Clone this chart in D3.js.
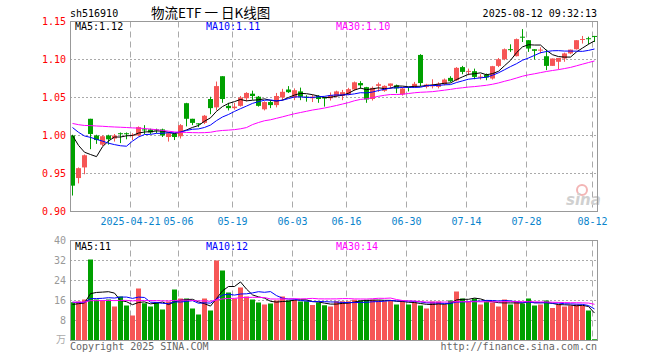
<!DOCTYPE html>
<html>
<head>
<meta charset="utf-8">
<script src="https://cdn.jsdelivr.net/npm/d3@7"></script>
<style>
body { margin: 0; background: #fff; }
text { font-family: "DejaVu Sans Mono", monospace; font-size: 10px; }
</style>
</head>
<body>
<div id="canvas"></div>
<script>
var width = 660;
var height = 360;

// trading days shown (2025)
var dates = ["04-07","04-08","04-09","04-10","04-11","04-14","04-15","04-16","04-17","04-18",
  "04-21","04-22","04-23","04-24","04-25","04-28","04-29","04-30",
  "05-06","05-07","05-08","05-09","05-12","05-13","05-14","05-15","05-16","05-19","05-20","05-21","05-22","05-23",
  "05-26","05-27","05-28","05-29","05-30",
  "06-03","06-04","06-05","06-06","06-09","06-10","06-11","06-12","06-13","06-16","06-17","06-18","06-19","06-20",
  "06-23","06-24","06-25","06-26","06-27","06-30",
  "07-01","07-02","07-03","07-04","07-07","07-08","07-09","07-10","07-11","07-14","07-15","07-16","07-17","07-18",
  "07-21","07-22","07-23","07-24","07-25","07-28","07-29","07-30","07-31",
  "08-01","08-04","08-05","08-06","08-07","08-08","08-11","08-12"];

var open = [1.000,0.944,0.958,1.022,1.000,0.988,1.000,0.996,1.003,1.003,
  1.000,1.000,1.008,1.008,1.008,1.008,0.998,1.002,
  0.999,1.0425,1.022,1.016,1.0167,1.048,1.037,1.078,1.039,1.036,1.039,1.049,1.055,1.051,
  1.0345,1.044,1.040,1.050,1.0605,
  1.050,1.058,1.051,1.049,1.052,1.050,1.049,1.052,1.052,1.054,1.0605,1.069,1.0636,1.048,
  1.0653,1.0588,1.0653,1.066,1.054,1.064,
  1.064,1.106,1.064,1.065,1.064,1.0675,1.0758,1.0727,1.090,1.084,1.0846,1.077,1.080,1.075,
  1.0916,1.1004,1.1136,1.1044,1.130,1.1254,1.1135,1.112,1.1043,
  1.0916,1.097,1.1013,1.108,1.1135,1.126,1.128,1.131];

var high = [1.001,0.958,0.975,1.022,1.001,1.000,1.001,1.002,1.004,1.004,
  1.003,1.012,1.0136,1.009,1.009,1.009,1.004,1.003,
  1.015,1.043,1.022,1.016,1.027,1.051,1.071,1.078,1.043,1.043,1.052,1.057,1.059,1.052,
  1.045,1.046,1.056,1.0614,1.065,
  1.062,1.063,1.053,1.0535,1.053,1.051,1.0566,1.059,1.060,1.0627,1.071,1.0715,1.064,1.0645,
  1.0697,1.066,1.0684,1.067,1.0636,1.064,
  1.0705,1.107,1.068,1.074,1.070,1.075,1.078,1.090,1.0916,1.088,1.088,1.0806,1.0815,1.0916,
  1.102,1.1145,1.120,1.1276,1.140,1.1254,1.1135,1.116,1.113,
  1.1013,1.102,1.109,1.113,1.1254,1.131,1.130,1.131];

var low = [0.921,0.937,0.949,0.982,0.989,0.986,0.988,0.992,0.990,0.995,
  0.994,0.999,1.002,1.002,1.003,0.998,0.992,0.994,
  0.996,1.012,1.0136,1.011,1.015,1.028,1.033,1.043,1.033,1.034,1.038,1.045,1.047,1.038,
  1.033,1.036,1.037,1.0465,1.056,
  1.0465,1.0465,1.0445,1.044,1.043,1.038,1.046,1.050,1.0465,1.053,1.059,1.0615,1.043,1.046,
  1.0574,1.0575,1.062,1.0557,1.0525,1.058,
  1.063,1.065,1.062,1.062,1.062,1.066,1.070,1.0714,1.0806,1.0793,1.074,1.0736,1.0727,1.0736,
  1.090,1.099,1.110,1.104,1.123,1.110,1.100,1.108,1.086,
  1.0916,1.087,1.097,1.107,1.113,1.121,1.120,1.123];

var close = [0.934,0.957,0.974,1.002,0.994,0.999,0.995,1.000,1.002,1.002,
  1.001,1.011,1.007,1.004,1.007,1.000,1.003,0.998,
  1.0136,1.022,1.0166,1.0155,1.026,1.036,1.065,1.048,1.036,1.038,1.050,1.056,1.052,1.039,
  1.044,1.040,1.052,1.0575,1.057,
  1.0596,1.051,1.050,1.051,1.048,1.049,1.053,1.058,1.057,1.061,1.070,1.066,1.0474,1.0627,
  1.0675,1.0653,1.0684,1.062,1.0618,1.063,
  1.068,1.069,1.067,1.066,1.068,1.0736,1.0714,1.089,1.0837,1.085,1.0771,1.0775,1.0763,1.0912,
  1.1004,1.1135,1.113,1.1268,1.1295,1.1144,1.1114,1.113,1.0916,
  1.1013,1.102,1.108,1.113,1.1254,1.127,1.127,1.130];

// volume, in 万
var volume = [15.3,15.6,16.4,32.4,16.4,16,16.4,13.6,17.6,14,
  10,20.8,14.9,13.6,15.3,12.4,15.6,20.4,
  16.8,16.8,12.8,10.4,16.8,12,32,28,19.2,16.8,21.2,17.6,16.4,15.2,
  14.4,14.8,16,17.6,16,
  16.3,15.6,15.7,14.2,15.2,14.1,13.6,15.7,15.7,15.7,16.3,16,16.3,16.3,
  16,15.7,16,14.4,16,14.4,
  15.2,14,12.8,15.6,15.6,14.4,16,19.6,16.8,15.6,16.8,14.4,15.6,15.2,
  13.6,16.4,14.4,15.6,14.8,16.8,14,14.4,16,
  13,14.4,13.6,14,14.4,14,12,0.5];

// closes and volumes of the 29 sessions before the window (for the moving averages)
var priorClose = [1.004,1.006,1.008,1.009,1.010,1.011,1.012,1.012,1.013,1.015,
  1.020,1.024,1.027,1.030,1.031,1.030,1.029,1.028,1.026,1.025,
  1.020,1.022,1.021,1.020,1.022,1.022,1.019,1.017,1.008];
var priorVolume = [14,16,15,17,14,15,16,15,14,16,17,15,14,16,15,16,15,14,16,16,
  17,15,18,16,15,14,15,13.7,14];

var tickDates = ["04-21","05-06","05-19","06-03","06-16","06-30","07-14","07-28","08-12"];
var tickLabels = ["2025-04-21","05-06","05-19","06-03","06-16","06-30","07-14","07-28","08-12"];
var priceTicks = [0.90, 0.95, 1.00, 1.05, 1.10, 1.15];
var volumeTicks = [8, 16, 24, 32, 40];
var priceMaText = ["MA5:1.12", "MA10:1.11", "MA30:1.10"];
var volumeMaText = ["MA5:11", "MA10:12", "MA30:14"];
var maPeriods = [5, 10, 30];
var maColors = ["#000000", "#0000ff", "#ff00ff"];

var red = "#f65656";
var green = "#00a000";

var svg = d3.select("#canvas").append("svg")
    .attr("width", width)
    .attr("height", height);

var x = d3.scaleBand().domain(dates).range([70, 598]).padding(0);
var yP = d3.scaleLinear().domain([0.90, 1.15]).range([211.5, 21.5]);
var yV = d3.scaleLinear().domain([0, 40]).range([340.5, 240.5]);

function movingAvg(prior, vals, n) {
  var all = prior.concat(vals);
  var k = prior.length;
  return vals.map(function(v, i) {
    return d3.mean(all.slice(k + i - n + 1, k + i + 1));
  });
}

var idx = d3.range(dates.length);
function isUp(i) { return close[i] >= open[i]; }

// header
svg.append("text").attr("x", 70).attr("y", 17).text("sh516910");
svg.append("text").attr("x", 151).attr("y", 18)
    .style("font-family", "'Noto Sans CJK SC', sans-serif").style("font-size", "13.5px")
    .text("物流ETF 一 日K线图");
svg.append("text").attr("x", 597).attr("y", 17).attr("text-anchor", "end").text("2025-08-12 09:32:13");

// grids
function panelGrid(yScale, values, top, bottom) {
  svg.append("g").selectAll("line").data(values).enter().append("line")
      .attr("x1", 70).attr("x2", 597)
      .attr("y1", d => yScale(d)).attr("y2", d => yScale(d))
      .attr("stroke", "#aaa").attr("stroke-dasharray", "2,2");
  svg.append("g").selectAll("line").data(tickDates).enter().append("line")
      .attr("x1", d => x(d) + 0.5).attr("x2", d => x(d) + 0.5)
      .attr("y1", top).attr("y2", bottom)
      .attr("stroke", "#aaa").attr("stroke-dasharray", "6,4");
}
panelGrid(yP, [0.95, 1.00, 1.05, 1.10], 21.5, 211.5);
panelGrid(yV, [8, 16, 24, 32], 240.5, 340.5);

// sina watermark
svg.append("circle").attr("cx", 582).attr("cy", 190).attr("r", 5)
    .attr("fill", "none").attr("stroke", "#f3b5b5").attr("stroke-width", 2);
svg.append("text").attr("x", 566).attr("y", 205)
    .style("font-family", "'DejaVu Sans', sans-serif").style("font-size", "15px")
    .style("font-weight", "bold").style("font-style", "italic")
    .attr("fill", "#d0d0d0").text("sina");

// candles
var candles = svg.append("g").selectAll("g").data(idx).enter().append("g");
candles.append("line")
    .attr("x1", i => x(dates[i]) + 2.5).attr("x2", i => x(dates[i]) + 2.5)
    .attr("y1", i => yP(high[i])).attr("y2", i => yP(low[i]))
    .attr("stroke", i => isUp(i) ? red : green);
candles.append("rect")
    .attr("x", i => x(dates[i]))
    .attr("width", 5)
    .attr("y", i => yP(Math.max(open[i], close[i])))
    .attr("height", i => Math.max(1, Math.abs(yP(open[i]) - yP(close[i]))))
    .attr("fill", i => isUp(i) ? red : green);

// volume bars
svg.append("g").selectAll("rect").data(idx).enter().append("rect")
    .attr("x", i => x(dates[i]))
    .attr("width", 5)
    .attr("y", i => yV(volume[i]))
    .attr("height", i => yV(0) - yV(volume[i]))
    .attr("fill", i => isUp(i) ? red : green);

// moving averages
maPeriods.forEach(function(n, k) {
  var pm = movingAvg(priorClose, close, n);
  var vm = movingAvg(priorVolume, volume, n);
  svg.append("path").datum(idx)
      .attr("d", d3.line().x(i => x(dates[i]) + 2.5).y(i => yP(pm[i])))
      .attr("fill", "none").attr("stroke", maColors[k]).attr("stroke-width", 1);
  svg.append("path").datum(idx)
      .attr("d", d3.line().x(i => x(dates[i]) + 2.5).y(i => yV(vm[i])))
      .attr("fill", "none").attr("stroke", maColors[k]).attr("stroke-width", 1);
});

// frames
svg.append("rect").attr("x", 70.5).attr("y", 21.5).attr("width", 527).attr("height", 190)
    .attr("fill", "none").attr("stroke", "#999");
svg.append("rect").attr("x", 70.5).attr("y", 240.5).attr("width", 527).attr("height", 100)
    .attr("fill", "none").attr("stroke", "#999");

// price axis labels
var yAxis = svg.append("g").attr("transform", "translate(70,0)")
    .call(d3.axisLeft(yP).tickValues(priceTicks).tickFormat(d3.format(".2f")).tickSize(0).tickPadding(4));
yAxis.select(".domain").remove();
yAxis.selectAll("text").attr("fill", "#ff0000").style("font-size", "10px")
    .style("font-family", "'DejaVu Sans Mono', monospace");

// volume axis labels
var vAxis = svg.append("g").attr("transform", "translate(70,0)")
    .call(d3.axisLeft(yV).tickValues(volumeTicks).tickSize(0).tickPadding(4));
vAxis.select(".domain").remove();
vAxis.selectAll("text").attr("fill", "#999").style("font-size", "10px")
    .style("font-family", "'DejaVu Sans Mono', monospace");
svg.append("text").attr("x", 66).attr("y", 343).attr("text-anchor", "end")
    .attr("fill", "#aaa").style("font-family", "'Noto Sans CJK SC', sans-serif").text("万");

// date labels
svg.append("g").selectAll("text").data(tickDates).enter().append("text")
    .attr("x", d => x(d) + 0.5).attr("y", 225).attr("text-anchor", "middle")
    .attr("fill", "#0a84cc")
    .text((d, i) => tickLabels[i]);

// MA legends
var legendX = [75, 206, 336];
priceMaText.forEach(function(t, k) {
  svg.append("text").attr("x", legendX[k]).attr("y", 30).attr("fill", maColors[k]).text(t);
});
volumeMaText.forEach(function(t, k) {
  svg.append("text").attr("x", legendX[k]).attr("y", 250).attr("fill", maColors[k]).text(t);
});

// footer
svg.append("text").attr("x", 70).attr("y", 350).attr("fill", "#666").text("Copyright 2025 SINA.COM");
svg.append("text").attr("x", 597).attr("y", 350).attr("text-anchor", "end").attr("fill", "#666")
    .text("http://finance.sina.com.cn");
</script>
</body>
</html>
